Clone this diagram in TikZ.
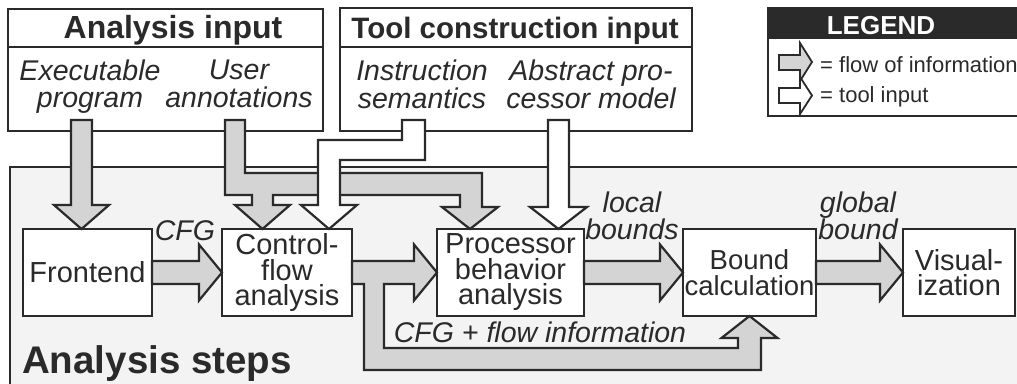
\documentclass[tikz,border=0pt]{standalone}
\usepackage{fontspec}
\setmainfont{Liberation Sans}
\usetikzlibrary{calc}
\lineskiplimit=-40pt
\definecolor{ink}{HTML}{2A2A2A}
\definecolor{arrowgray}{HTML}{D4D4D4}
\definecolor{panelgray}{HTML}{F3F3F3}
\tikzset{
  frame/.style={draw=ink, line width=2.4pt},
  stepbox/.style={frame, fill=white, minimum width=#1, minimum height=87pt,
    inner sep=0pt, outer sep=0pt, align=center, text=ink,
    font=\fontsize{29}{25.5}\selectfont},
  fat/.style={draw=ink, line width=2.2pt, line join=miter, fill=arrowgray},
  fatw/.style={fat, fill=white},
  lab/.style={inner sep=0pt, align=center, text=ink,
    font=\fontsize{28.5}{27.5}\selectfont\itshape},
  title/.style={inner sep=0pt, text=ink, font=\fontsize{30}{30}\selectfont\bfseries},
  legtext/.style={inner sep=0pt, text=ink, anchor=base west, font=\fontsize{22}{22}\selectfont},
}
\begin{document}
\begin{tikzpicture}[x=1pt,y=-1pt]
\useasboundingbox (0,0) rectangle (1017,383);
\clip (0,0) rectangle (1017,383);

% Analysis steps panel
\draw[frame, fill=panelgray] (10,167) rectangle (1040,400);
\node[title, anchor=base west, font=\fontsize{38.5}{38}\selectfont\bfseries] (steps) at (22,373) {Analysis steps};

% Input boxes
\draw[frame, fill=white] (8,9) rectangle (323,131);
\draw[frame] (8,47) -- (323,47);
\node[title, anchor=base, font=\fontsize{32}{32}\selectfont\bfseries] (ain) at (173,38) {Analysis input};
\node[lab] (exe) at (90,86.5) {Executable\\program};
\node[lab] (usr) at (239,84) {User\\annotations};

\draw[frame, fill=white] (340,8) rectangle (692,131);
\draw[frame] (340,47) -- (692,47);
\node[title, anchor=base, font=\fontsize{29.5}{30}\selectfont\bfseries] (tin) at (515,38) {Tool construction input};
\node[lab] (ins) at (422,84.5) {Instruction\\semantics};
\node[lab] (apm) at (591,84.5) {Abstract pro-\\cessor model};

% Legend
\draw[frame, fill=white] (768,8) rectangle (1040,116);
\fill[ink] (768,8) rectangle (1040,39);
\node[inner sep=0pt, anchor=base, text=white, font=\fontsize{26}{26}\selectfont\bfseries] (leg) at (881,34) {LEGEND};
\draw[fat, line width=1.8pt] (779,55) -- (800,55) -- (800,43) -- (812,62) -- (800,81) -- (800,70) -- (779,70) -- cycle;
\draw[fatw, line width=1.8pt] (779,88) -- (800,88) -- (800,77) -- (812,95.5) -- (800,114) -- (800,103) -- (779,103) -- cycle;
\node[legtext] (l1) at (820,72) {= flow of information};
\node[legtext] (l2) at (820,102) {= tool input};

% Analysis step nodes
\node[stepbox=129pt] (fe)  at (87.5,272.5)  {Frontend};
\node[stepbox=130pt] (ctl) at (287,272.5)   {Control-\\flow\\analysis};
\node[stepbox=147pt] (proc) at (510.5,272.5) {Processor\\behavior\\analysis};
\node[stepbox=133pt, font=\fontsize{27.5}{25.5}\selectfont] (bnd) at (749.5,272.5) {Bound\\calculation};
\node[stepbox=112pt] (vis) at (959,272.5)   {Visual-\\ization};

% Executable program -> Frontend
\draw[fat] (71,120) -- (92,120) -- (92,205) -- (109,205) -- (81.5,229) -- (54,205) -- (71,205) -- cycle;

% User annotations -> Control-flow and Processor behavior
\draw[fat] (225,120) -- (245,120) -- (245,173) -- (482,173) -- (482,207) -- (498,207)
  -- (470,229) -- (442,207) -- (460,207) -- (460,195) -- (273,195) -- (273,205)
  -- (290,205) -- (262.5,229) -- (235,205) -- (252,205) -- (252,195) -- (225,195) -- cycle;

% Instruction semantics -> Control-flow (tool input)
\draw[fatw] (402,120) -- (425,120) -- (425,160) -- (340,160) -- (340,205) -- (357,205)
  -- (329,229) -- (301,205) -- (318,205) -- (318,140) -- (402,140) -- cycle;

% Abstract processor model -> Processor behavior (tool input)
\draw[fatw] (548,120) -- (569,120) -- (569,207) -- (587,207) -- (558.5,229) -- (530,207) -- (548,207) -- cycle;

% Frontend -> Control-flow
\draw[fat] let \p1=(fe.east), \p2=(ctl.west) in
  (\x1,\y2+11.5pt) -- (\x2-23pt,\y2+11.5pt) -- (\x2-23pt,\y2+28pt) -- (\x2,\y2)
  -- (\x2-23pt,\y2-28pt) -- (\x2-23pt,\y2-11.5pt) -- (\x1,\y2-11.5pt) -- cycle;
\node[lab, anchor=base] (cfg) at (185,240) {CFG};

% Control-flow -> Processor, with branch to Bound calculation
\draw[fat] let \p1=(ctl.east), \p2=(proc.west), \p3=(bnd.south) in
  (\x1,\y2+11.5pt) -- (\x2-23pt,\y2+11.5pt) -- (\x2-23pt,\y2+28pt) -- (\x2,\y2)
  -- (\x2-23pt,\y2-28pt) -- (\x2-23pt,\y2-11.5pt) -- (\x1+32pt,\y2-11.5pt)
  -- (\x1+32pt,-348pt) -- (\x3-11.5pt,-348pt) -- (\x3-11.5pt,\y3-22pt)
  -- (\x3-28pt,\y3-22pt) -- (\x3,\y3) -- (\x3+28pt,\y3-22pt) -- (\x3+11.5pt,\y3-22pt)
  -- (\x3+11.5pt,-370pt) -- (\x1+12pt,-370pt) -- (\x1+12pt,\y2-11.5pt)
  -- (\x1,\y2-11.5pt) -- cycle;
\node[lab, anchor=base] (cfi) at (540,342) {CFG + flow information};

% Processor -> Bound
\draw[fat] let \p1=(proc.east), \p2=(bnd.west) in
  (\x1,\y2+11.5pt) -- (\x2-23pt,\y2+11.5pt) -- (\x2-23pt,\y2+28pt) -- (\x2,\y2)
  -- (\x2-23pt,\y2-28pt) -- (\x2-23pt,\y2-11.5pt) -- (\x1,\y2-11.5pt) -- cycle;
\node[lab] (lb) at (632,216) {local\\bounds};

% Bound -> Visualization
\draw[fat] let \p1=(bnd.east), \p2=(vis.west) in
  (\x1,\y2+11.5pt) -- (\x2-23pt,\y2+11.5pt) -- (\x2-23pt,\y2+28pt) -- (\x2,\y2)
  -- (\x2-23pt,\y2-28pt) -- (\x2-23pt,\y2-11.5pt) -- (\x1,\y2-11.5pt) -- cycle;
\node[lab] (gb) at (858,216) {global\\bound};
\end{tikzpicture}
\end{document}
